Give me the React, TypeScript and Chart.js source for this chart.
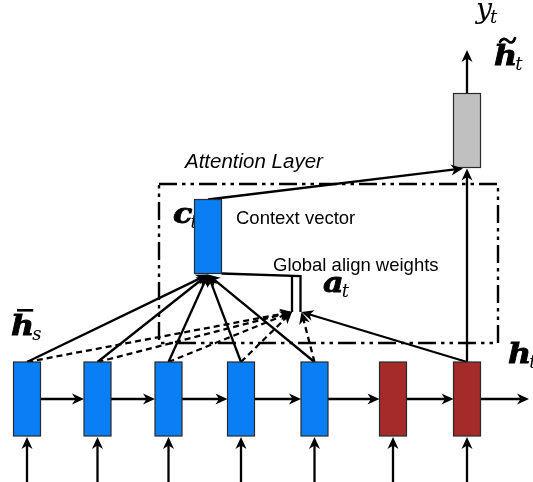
import { useEffect, useRef } from 'react';
import { Chart, registerables } from 'chart.js';

Chart.register(...registerables);

// time steps of the bottom recurrent row (source steps, then target steps)
const stepX = [27, 97.5, 168.5, 241, 314.5, 393, 467];
const stepRole = ['source', 'source', 'source', 'source', 'source', 'target', 'target'];

// captions
const captionText = ['Attention Layer', 'Context vector', 'Global align weights'];
const captionX = [185, 236, 273];
const captionY = [168, 224, 271];

// math labels: base symbol, subscript, accent
const mathBase = ['y', 'h', 'c', 'a', 'h', 'h'];
const mathSub = ['t', 't', 't', 't', 's', 't'];
const mathAccent = ['', 'tilde', '', '', 'bar', ''];
const mathBold = [false, true, true, true, true, true];
const mathX = [476, 494, 173, 323, 11, 508];
const mathY = [18, 65, 223, 292, 335, 363];

const CELL_W = 27;
const CELL_H = 74;
const ROW_Y = 399;
const CTX = { x: 208, y: 236.5 };
const OUT = { x: 467, y: 130.5 };
const ALIGN = { left: 292, right: 300.5, top: 276, bottom: 312 };
const FRAME = { left: 159, right: 498, top: 184, bottom: 343 };
const COLORS: Record<string, string> = { source: '#0a7ff5', target: '#a52a2a', output: '#c0c0c0' };

type P = { x: number; y: number };
type Link = { pts: P[]; dashed?: boolean; arrow?: boolean; dashDot?: boolean };

function buildLinks(): Link[] {
  const links: Link[] = [];
  const half = CELL_W / 2;
  const top = ROW_Y - CELL_H / 2;
  const bottom = ROW_Y + CELL_H / 2;
  const last = stepX.length - 1;

  stepX.forEach((x, i) => {
    links.push({ pts: [{ x, y: 482 }, { x, y: bottom + 1 }], arrow: true });
    const nx = i < last ? stepX[i + 1] - half : 529;
    links.push({ pts: [{ x: x + half, y: ROW_Y }, { x: nx, y: ROW_Y }], arrow: true });
    if (stepRole[i] === 'source') {
      links.push({ pts: [{ x, y: top }, { x: CTX.x, y: CTX.y + CELL_H / 2 + 1 }], arrow: true });
      const ax = i < 4 ? ALIGN.left : ALIGN.right + 1;
      links.push({ pts: [{ x, y: top }, { x: ax, y: ALIGN.bottom }], arrow: true, dashed: true });
    }
  });

  // current target state -> align weights and -> attentional state
  const tx = stepX[last];
  links.push({ pts: [{ x: tx, y: top }, { x: ALIGN.right + 1, y: ALIGN.bottom }], arrow: true });
  links.push({ pts: [{ x: tx, y: top }, { x: OUT.x, y: OUT.y + CELL_H / 2 + 1 }], arrow: true });
  links.push({ pts: [{ x: CTX.x, y: CTX.y - CELL_H / 2 }, { x: OUT.x - 4, y: OUT.y + CELL_H / 2 + 1 }], arrow: true });
  links.push({ pts: [{ x: OUT.x, y: OUT.y - CELL_H / 2 }, { x: OUT.x, y: 50 }], arrow: true });

  // align weights vector
  links.push({
    pts: [
      { x: CTX.x + CELL_W / 2, y: CTX.y + CELL_H / 2 },
      { x: ALIGN.right, y: ALIGN.top },
      { x: ALIGN.right, y: ALIGN.bottom },
    ],
  });
  links.push({ pts: [{ x: ALIGN.left, y: ALIGN.top }, { x: ALIGN.left, y: ALIGN.bottom }] });

  // attention layer frame
  links.push({
    pts: [
      { x: FRAME.left, y: FRAME.top },
      { x: FRAME.right, y: FRAME.top },
      { x: FRAME.right, y: FRAME.bottom },
      { x: FRAME.left, y: FRAME.bottom },
      { x: FRAME.left, y: FRAME.top },
    ],
    dashDot: true,
  });
  return links;
}

function shorten(pts: P[], by: number): P[] {
  const out = pts.map((p) => ({ ...p }));
  const a = out[out.length - 2];
  const b = out[out.length - 1];
  const len = Math.hypot(b.x - a.x, b.y - a.y);
  b.x -= ((b.x - a.x) / len) * by;
  b.y -= ((b.y - a.y) / len) * by;
  return out;
}

function drawArrowHead(ctx: CanvasRenderingContext2D, from: P, tip: P) {
  const ang = Math.atan2(tip.y - from.y, tip.x - from.x);
  const L = 12;
  const W = 5.5;
  const N = 8.5;
  ctx.save();
  ctx.translate(tip.x, tip.y);
  ctx.rotate(ang);
  ctx.beginPath();
  ctx.moveTo(0, 0);
  ctx.lineTo(-L, -W);
  ctx.lineTo(-N, 0);
  ctx.lineTo(-L, W);
  ctx.closePath();
  ctx.fillStyle = '#000';
  ctx.fill();
  ctx.restore();
}

function drawMath(ctx: CanvasRenderingContext2D, i: number, px: (p: P) => P) {
  const p = px({ x: mathX[i], y: mathY[i] });
  const bold = mathBold[i];
  ctx.fillStyle = '#000';
  ctx.strokeStyle = '#000';
  ctx.font = `${bold ? 'bold ' : ''}italic ${bold ? 28 : 27}px "DejaVu Serif"`;
  const sx = bold ? 1.14 : 1.05;
  ctx.save();
  ctx.translate(p.x, p.y);
  ctx.scale(sx, 1);
  ctx.fillText(mathBase[i], 0, 0);
  if (bold) {
    ctx.lineWidth = 0.8;
    ctx.strokeText(mathBase[i], 0, 0);
  }
  const w = ctx.measureText(mathBase[i]).width;
  ctx.restore();
  const bw = w * sx;
  if (mathAccent[i] === 'bar') {
    ctx.fillRect(p.x + 6, p.y - 26, bw - 7, 2.6);
  } else if (mathAccent[i] === 'tilde') {
    const x0 = p.x + 6;
    const y0 = p.y - 24;
    ctx.lineWidth = 2.6;
    ctx.lineCap = 'round';
    ctx.beginPath();
    ctx.moveTo(x0, y0 + 1);
    ctx.bezierCurveTo(x0 + 3, y0 - 4, x0 + 6, y0 - 2, x0 + 8, y0);
    ctx.bezierCurveTo(x0 + 10, y0 + 2, x0 + 13, y0 + 3, x0 + 15, y0 - 3);
    ctx.stroke();
  }
  ctx.font = 'italic 18px "DejaVu Serif"';
  ctx.fillText(mathSub[i], p.x + bw - 2, p.y + 5);
}

const diagramPlugin = {
  id: 'diagram',
  beforeDatasetsDraw(chart: Chart) {
    const { ctx, scales } = chart;
    const px = (p: P) => ({ x: scales.x.getPixelForValue(p.x), y: scales.y.getPixelForValue(p.y) });
    ctx.save();
    ctx.fillStyle = '#000';
    ctx.textBaseline = 'alphabetic';
    captionText.forEach((t, i) => {
      const p = px({ x: captionX[i], y: captionY[i] });
      ctx.font = i === 0 ? 'italic 20.5px "Liberation Sans"' : '18.5px "Liberation Sans"';
      ctx.fillText(t, p.x, p.y);
    });
    mathBase.forEach((_, i) => drawMath(ctx, i, px));
    ctx.restore();
  },
  afterDatasetsDraw(chart: Chart) {
    const { ctx, scales } = chart;
    const px = (p: P) => ({ x: scales.x.getPixelForValue(p.x), y: scales.y.getPixelForValue(p.y) });
    const box = (c: P, fill: string) => {
      const a = px({ x: c.x - CELL_W / 2, y: c.y - CELL_H / 2 });
      const b = px({ x: c.x + CELL_W / 2, y: c.y + CELL_H / 2 });
      ctx.fillStyle = fill;
      ctx.fillRect(a.x, a.y, b.x - a.x, b.y - a.y);
      ctx.strokeStyle = '#2a2a2a';
      ctx.lineWidth = 1.2;
      ctx.strokeRect(a.x, a.y, b.x - a.x, b.y - a.y);
    };
    ctx.save();
    stepX.forEach((x, i) => box({ x, y: ROW_Y }, COLORS[stepRole[i]]));
    box(CTX, COLORS.source);
    box(OUT, COLORS.output);
    buildLinks().forEach((l) => {
      if (!l.arrow) return;
      const n = l.pts.length;
      drawArrowHead(ctx, px(l.pts[n - 2]), px(l.pts[n - 1]));
    });
    ctx.restore();
  },
};

export default function App() {
  const canvasRef = useRef<HTMLCanvasElement>(null);
  const chartRef = useRef<Chart | null>(null);

  useEffect(() => {
    if (!canvasRef.current) return;
    if (chartRef.current) chartRef.current.destroy();

    const links = buildLinks();
    chartRef.current = new Chart(canvasRef.current, {
      type: 'scatter',
      data: {
        datasets: links.map((l) => ({
          data: l.arrow ? shorten(l.pts, 6) : l.pts,
          showLine: true,
          borderColor: '#000',
          borderWidth: l.dashDot ? 2.4 : 2.3,
          borderDash: l.dashDot ? [18, 5, 3.5, 5, 3.5, 5] : l.dashed ? [6, 4] : [],
          pointRadius: 0,
          fill: false,
          tension: 0,
        })),
      },
      options: {
        animation: false,
        responsive: true,
        maintainAspectRatio: false,
        events: [],
        layout: { padding: 0 },
        scales: {
          x: { type: 'linear', min: 0, max: 533, display: false },
          y: { type: 'linear', min: 0, max: 482, reverse: true, display: false },
        },
        plugins: {
          legend: { display: false },
          tooltip: { enabled: false },
        },
      },
      plugins: [diagramPlugin],
    });

    return () => {
      if (chartRef.current) {
        chartRef.current.destroy();
        chartRef.current = null;
      }
    };
  }, []);

  return (
    <div style={{ position: 'absolute', left: 0, top: 0, width: 533, height: 482, background: '#fff' }}>
      <canvas ref={canvasRef} />
    </div>
  );
}
